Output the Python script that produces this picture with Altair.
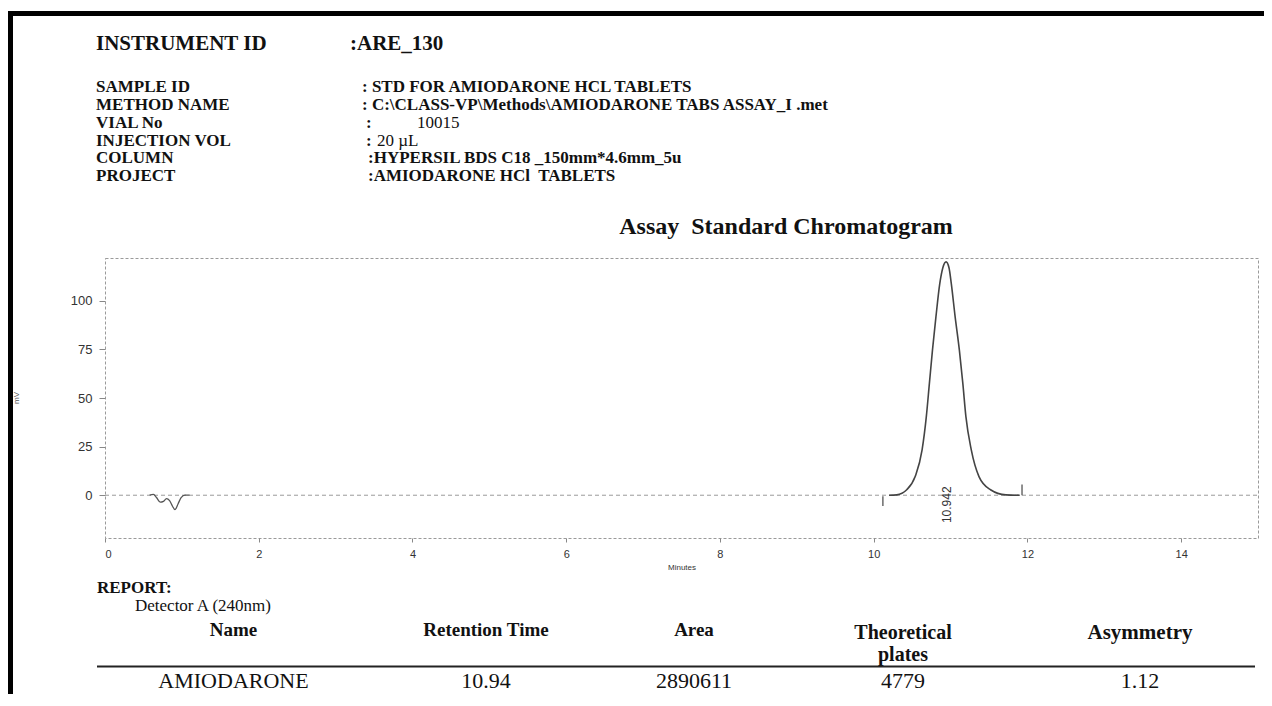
import altair as alt
import pandas as pd

# ---------------- data ----------------
peak_time = [10.20, 10.30, 10.43, 10.54, 10.63, 10.685, 10.725, 10.765, 10.81, 10.86, 10.90,
             10.942, 10.98, 11.01, 11.06, 11.115, 11.16, 11.20, 11.27, 11.37, 11.52, 11.72, 11.90]
peak_signal = [0, 0.2, 2.8, 9.6, 23.3, 40.4, 57.5, 74.6, 91.7, 108.8, 117.0,
               120.0, 117.0, 108.8, 91.7, 74.6, 57.5, 40.4, 23.3, 9.6, 2.8, 0.2, 0]

dip_time = [0.58, 0.63, 0.67, 0.72, 0.76, 0.80, 0.84, 0.88, 0.91, 0.95, 0.99, 1.04, 1.10]
dip_signal = [0, 0.4, -1.2, -3.6, -3.2, -1.8, -2.8, -5.8, -7.4, -4.5, -1.2, 0.1, 0]

marker_time = [10.12, 11.93]
marker_lo = [-5.5, 0.0]
marker_hi = [-0.5, 5.5]

baseline_span = [0, 15]
peak_label_time = [10.942]
peak_label_pos = [-4.9]
peak_label_text = ["10.942"]

x_ticks = [0, 2, 4, 6, 8, 10, 12, 14]
y_ticks = [0, 25, 50, 75, 100]
x_domain = [0, 15]
y_domain = [-22, 122]

header_labels = ["SAMPLE ID", "METHOD NAME", "VIAL No", "INJECTION VOL", "COLUMN", "PROJECT"]
header_values = [": STD FOR AMIODARONE HCL TABLETS",
                 ": C:\\CLASS-VP\\Methods\\AMIODARONE TABS ASSAY_I .met",
                 "10015", "20 \u00b5L",
                 ":HYPERSIL BDS C18 _150mm*4.6mm_5u",
                 ":AMIODARONE HCl\u00a0 TABLETS"]
table_headers = ["Name", "Retention Time", "Area", "Theoretical", "Asymmetry"]
table_row = ["AMIODARONE", "10.94", "2890611", "4779", "1.12"]

# ---------------- layout ----------------
PX0, PY0 = 105, 258          # page position of the plot area's top-left corner
W, H = 1153, 280
SERIF = "Liberation Serif"
SANS = "Liberation Sans"


def txt(s, px, py, size, weight="bold", align="left", font=SERIF, color="#111111",
        angle=0, baseline="alphabetic"):
    kw = dict(align=align, baseline=baseline, font=font, fontSize=size,
              fontWeight=weight, color=color)
    if angle:
        kw["angle"] = angle
    return alt.Chart(pd.DataFrame({"t": [s]})).mark_text(**kw).encode(
        x=alt.value(px - PX0), y=alt.value(py - PY0), text="t:N")


xscale = alt.Scale(domain=x_domain, nice=False, zero=False)
yscale = alt.Scale(domain=y_domain, nice=False, zero=False)
xaxis = alt.Axis(values=x_ticks, format="d", grid=False, domain=False, tickSize=4,
                 tickColor="#888", labelPadding=6, labelFont=SANS, labelFontSize=11,
                 labelColor="#333", title=None)
yaxis = alt.Axis(values=y_ticks, format="d", grid=False, domain=False, tickSize=6,
                 tickColor="#888", labelPadding=7, labelFont=SANS, labelFontSize=13,
                 labelColor="#333", title=None)

base_line = alt.Chart(pd.DataFrame({"a": [baseline_span[0]], "b": [baseline_span[1]], "y": [0]})).mark_rule(
    color="#9a9a9a", strokeWidth=1, strokeDash=[4, 3]).encode(
    x=alt.X("a:Q", scale=xscale, axis=xaxis), x2="b:Q",
    y=alt.Y("y:Q", scale=yscale, axis=yaxis))

peak = alt.Chart(pd.DataFrame({"t": peak_time, "v": peak_signal})).mark_line(
    color="#444444", strokeWidth=1.6, interpolate="monotone").encode(
    x=alt.X("t:Q", scale=xscale, axis=xaxis), y=alt.Y("v:Q", scale=yscale, axis=yaxis))

dip = alt.Chart(pd.DataFrame({"t": dip_time, "v": dip_signal})).mark_line(
    color="#555555", strokeWidth=1.3, interpolate="monotone").encode(
    x=alt.X("t:Q", scale=xscale), y=alt.Y("v:Q", scale=yscale))

markers = alt.Chart(pd.DataFrame({"t": marker_time, "lo": marker_lo, "hi": marker_hi})).mark_rule(
    color="#555555", strokeWidth=1.3).encode(
    x=alt.X("t:Q", scale=xscale), y=alt.Y("lo:Q", scale=yscale), y2="hi:Q")

plabel = alt.Chart(pd.DataFrame({"t": peak_label_time, "v": peak_label_pos, "s": peak_label_text})).mark_text(
    angle=270, align="center", baseline="middle", font=SANS, fontSize=12, color="#333333", dy=1).encode(
    x=alt.X("t:Q", scale=xscale), y=alt.Y("v:Q", scale=yscale), text="s:N")

layers = [base_line, peak, dip, markers, plabel]

# frame of the printed page
layers.append(alt.Chart(pd.DataFrame({"a": [0]})).mark_rule(color="#000000", strokeWidth=5).encode(
    x=alt.value(8 - PX0), x2=alt.value(1272 - PX0), y=alt.value(13.5 - PY0)))
layers.append(alt.Chart(pd.DataFrame({"a": [0]})).mark_rule(color="#000000", strokeWidth=5).encode(
    x=alt.value(10.5 - PX0), y=alt.value(11 - PY0), y2=alt.value(706 - PY0)))

# header block
layers.append(txt("INSTRUMENT ID", 96, 50, 21))
layers.append(txt(":ARE_130", 350, 50, 21))
label_y = [92, 110, 128, 146, 163, 181]
for lab, yy in zip(header_labels, label_y):
    layers.append(txt(lab, 96, yy, 17))
layers.append(txt(header_values[0], 362, label_y[0], 17))
layers.append(txt(header_values[1], 362, label_y[1], 17))
layers.append(txt(":", 366, label_y[2], 17))
layers.append(txt(header_values[2], 417, label_y[2], 17, weight="normal"))
layers.append(txt(":", 366, label_y[3], 17))
layers.append(txt(header_values[3], 377, label_y[3], 17, weight="normal"))
layers.append(txt(header_values[4], 368, label_y[4], 17))
layers.append(txt(header_values[5], 368, label_y[5], 17))

layers.append(txt("Assay\u00a0 Standard Chromatogram", 786, 234, 24, align="center"))

# axis titles
layers.append(txt("Minutes", 682, 568, 8, weight="normal", align="center", font=SANS,
                  color="#333333", baseline="middle"))
layers.append(txt("mV", 17, 398, 8, weight="normal", align="center", font=SANS,
                  color="#555555", baseline="middle", angle=270))

# report table
layers.append(txt("REPORT:", 97, 593, 17))
layers.append(txt("Detector A (240nm)", 135, 611, 17, weight="normal"))
hx = [233.5, 486, 694, 903, 1140]
layers.append(txt(table_headers[0], hx[0], 636, 19, align="center"))
layers.append(txt(table_headers[1], hx[1], 636, 19, align="center"))
layers.append(txt(table_headers[2], hx[2], 636, 19, align="center"))
layers.append(txt(table_headers[3], hx[3], 639, 20, align="center"))
layers.append(txt("plates", hx[3], 661, 20, align="center"))
layers.append(txt(table_headers[4], hx[4], 639, 21, align="center"))
layers.append(alt.Chart(pd.DataFrame({"a": [0]})).mark_rule(color="#222222", strokeWidth=2).encode(
    x=alt.value(97 - PX0), x2=alt.value(1255 - PX0), y=alt.value(666.5 - PY0)))
for val, xx in zip(table_row, hx):
    layers.append(txt(val, xx, 688, 22, weight="normal", align="center"))

chart = alt.layer(*layers).properties(
    width=W, height=H,
    autosize=alt.AutoSizeParams(type="none"),
    padding={"left": PX0 - 8, "top": PY0 - 8, "right": 6, "bottom": 156},
    background="white",
).configure_view(stroke="#9a9a9a", strokeWidth=1, strokeDash=[3, 2])

chart.save("out.html", embed_options={"renderer": "svg", "actions": False})
